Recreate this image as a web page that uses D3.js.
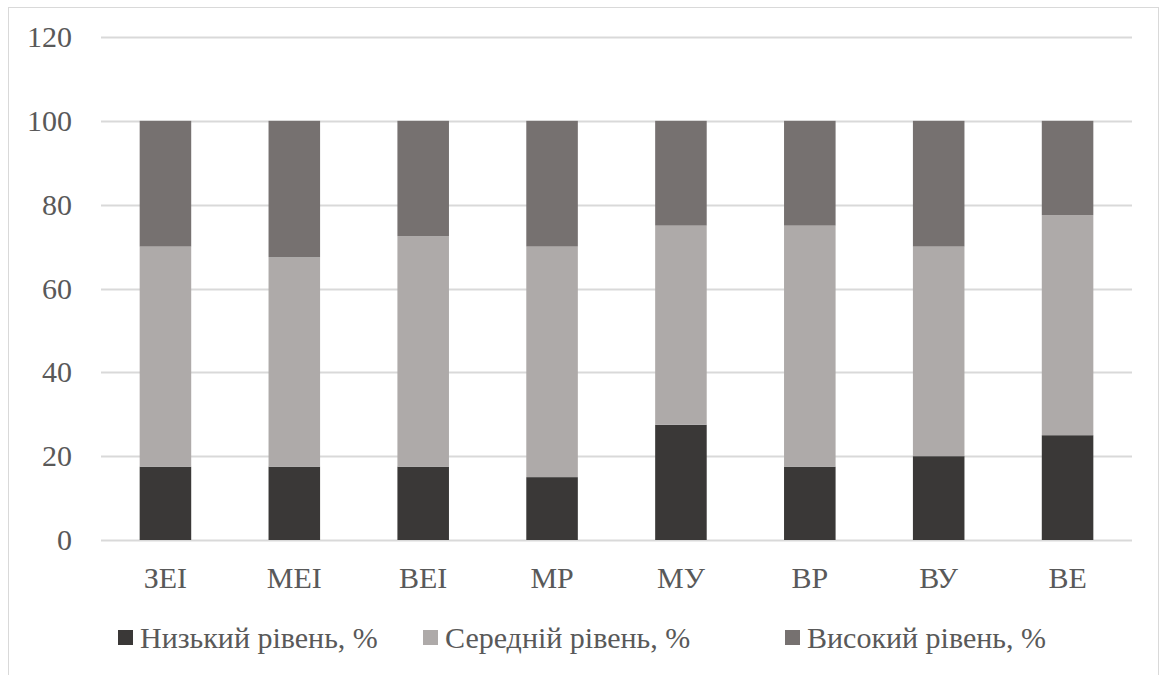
<!DOCTYPE html>
<html lang="uk">
<head>
<meta charset="UTF-8">
<script src="https://d3js.org/d3.v7.min.js"></script>
<style>
    body { margin: 0; background: #fff; }
    svg text { font-family: "Liberation Serif", "Times New Roman", serif; fill: #595959; }
</style>
</head>
<body>
<div id="chart"></div>
<script>
    // categories and series
    var categories = ["ЗЕІ", "МЕІ", "ВЕІ", "МР", "МУ", "ВР", "ВУ", "ВЕ"];
    var seriesNames = ["Низький рівень, %", "Середній рівень, %", "Високий рівень, %"];
    var lowLevel = [17.5, 17.5, 17.5, 15, 27.5, 17.5, 20, 25];
    var midLevel = [52.5, 50, 55, 55, 47.5, 57.5, 50, 52.5];
    var highLevel = [30, 32.5, 27.5, 30, 25, 25, 30, 22.5];
    var yTicks = [0, 20, 40, 60, 80, 100, 120];
    var colors = ["#3a3837", "#aeaaa9", "#767170"];

    var W = 1160, H = 675;
    var margin = {top: 37, right: 28, bottom: 135, left: 101};
    var width = W - margin.left - margin.right,
        height = H - margin.top - margin.bottom;

    var svg = d3.select("#chart").append("svg")
        .attr("width", W).attr("height", H)
        .attr("font-family", "'Liberation Serif', serif");

    // outer frame
    svg.append("rect")
        .attr("x", 8.5).attr("y", 7.5)
        .attr("width", 1150).attr("height", 700)
        .attr("fill", "none").attr("stroke", "#d9d9d9");

    var g = svg.append("g").attr("transform", "translate(" + margin.left + "," + margin.top + ")");

    var table = categories.map(function(c, i) {
        return {cat: c, s0: lowLevel[i], s1: midLevel[i], s2: highLevel[i]};
    });
    var stacked = d3.stack().keys(["s0", "s1", "s2"])(table);

    var x = d3.scaleBand().domain(categories).range([0, width]).paddingInner(0.6).paddingOuter(0.3);
    var y = d3.scaleLinear().domain([0, 120]).range([height, 0]);

    // gridlines
    g.append("g")
        .selectAll("line")
        .data(yTicks)
        .enter().append("line")
        .attr("x1", 0).attr("x2", width)
        .attr("y1", d => Math.round(y(d)) + 0.5).attr("y2", d => Math.round(y(d)) + 0.5)
        .attr("stroke", "#d9d9d9").attr("stroke-width", 2);

    // bars
    g.append("g")
        .selectAll("g")
        .data(stacked)
        .enter().append("g")
        .attr("fill", (d, i) => colors[i])
        .selectAll("rect")
        .data(d => d)
        .enter().append("rect")
        .attr("x", d => x(d.data.cat))
        .attr("y", d => y(d[1]))
        .attr("width", x.bandwidth())
        .attr("height", d => y(d[0]) - y(d[1]));

    // y axis labels
    var yAxis = g.append("g")
        .call(d3.axisLeft(y).tickValues(yTicks).tickSize(0).tickPadding(29));
    yAxis.select(".domain").remove();
    yAxis.selectAll("text")
        .style("font-size", "30px")
        .attr("fill", "#595959");

    // x axis labels
    var xAxis = g.append("g")
        .attr("transform", "translate(0," + height + ")")
        .call(d3.axisBottom(x).tickSize(0).tickPadding(27));
    xAxis.select(".domain").remove();
    xAxis.selectAll("text")
        .style("font-size", "30px")
        .attr("fill", "#595959");

    // legend
    var legendX = [118, 423, 785];
    var legend = svg.append("g")
        .selectAll("g")
        .data(seriesNames)
        .enter().append("g")
        .attr("transform", (d, i) => "translate(" + legendX[i] + ",630)");

    legend.append("rect")
        .attr("width", 15).attr("height", 15)
        .attr("fill", (d, i) => colors[i]);

    legend.append("text")
        .attr("x", 22).attr("y", 18)
        .style("font-size", "30px")
        .text(d => d);
</script>
</body>
</html>
